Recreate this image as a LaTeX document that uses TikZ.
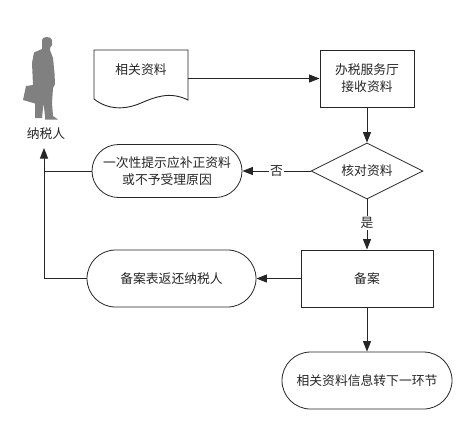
\documentclass[tikz,border=0pt]{standalone}
\usepackage{fontspec}
\setmainfont{Noto Sans CJK SC}
\usetikzlibrary{arrows.meta,shapes.geometric,shapes.misc}
\definecolor{ln}{gray}{0.15}
\tikzset{
  x=1bp,y=-1bp,
  txt/.style={font=\fontsize{12.8bp}{17bp}\selectfont,text=black!85,align=center,inner sep=0pt},
  boxn/.style={draw=ln,line width=0.9bp,rectangle,minimum width=#1,minimum height=57bp,inner sep=0pt,txt},
  pill/.style={draw=ln,line width=0.8bp,rounded rectangle,minimum width=#1,inner sep=0pt,txt},
  conn/.style={draw=ln,line width=1bp},
  arr/.style={conn,-{Triangle[length=10.5bp,width=8bp]}},
  lab/.style={txt,fill=white,inner sep=1bp}
}
\begin{document}
\begin{tikzpicture}
\useasboundingbox (0,0) rectangle (472,423);
\fill[white] (0,0) rectangle (472,423);
% person
\fill[black!50] (42,40) .. controls (42,36.5) and (51,35.5) .. (52,40) -- (52,45) -- (50,48) -- (50,50) -- (53,58) -- (54.5,73) -- (55,84) -- (53,88) -- (52,103) -- (53,116) -- (58,119.5) -- (45,119.5) -- (45,116) -- (43.5,103) -- (42,118) -- (35,118) -- (35,103.5) -- (23,100) -- (26,86) -- (33,85) -- (32,63) -- (34,52.5) -- (42,49) -- cycle;
\coordinate (arrowtop) at (44,148);
\node[txt] (person) at (46,134) {纳税人};
% document
\node[rectangle,minimum width=94bp,minimum height=57bp,inner sep=0pt] (doc) at (141,78.5) {};
\draw[draw=ln,line width=0.9bp] (94,50) -- (188,50) -- (188,100) .. controls (170,91) and (155,97) .. (141,103) .. controls (125,110) and (108,110) .. (94,99) -- cycle;
\node[txt] (doclabel) at (141,70) {相关资料};
\node[boxn=94bp] (recv) at (367,78.5) {办税服务厅\\接收资料};
\node[draw=ln,line width=0.8bp,diamond,aspect=2,minimum width=112bp,minimum height=56bp,inner sep=0pt,txt] (check) at (367,171) {核对资料};
\node[pill=150bp,minimum height=53bp] (notice) at (167,171) {一次性提示应补正资料\\或不予受理原因};
\node[boxn=132bp] (file) at (367,278.5) {备案};
\node[pill=169bp,minimum height=57bp] (ret) at (171.5,278.5) {备案表返还纳税人};
\node[pill=170bp,minimum height=57bp] (next) at (367,380.5) {相关资料信息转下一环节};
% connectors
\draw[arr] (doc.east) -- (recv.west);
\draw[arr] (recv.south) -- (check.north);
\draw[arr] (check.west) -- node[lab,pos=0.5] (nolab) {否} (notice.east);
\draw[arr] (check.south) -- node[lab,pos=0.47] (yeslab) {是} (file.north);
\draw[arr] (file.west) -- (ret.east);
\draw[arr] (file.south) -- (next.north);
\draw[arr] (ret.west) -| (arrowtop);
\draw[conn] (notice.west) -- (notice.west -| arrowtop);
\end{tikzpicture}
\end{document}
